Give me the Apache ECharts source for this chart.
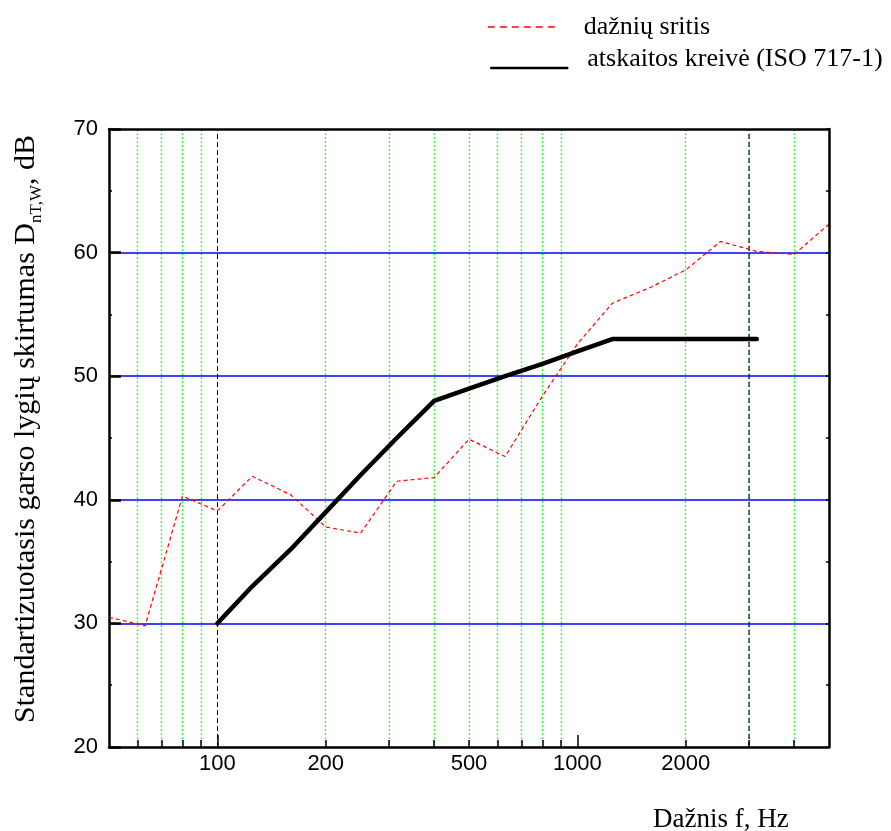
<!DOCTYPE html>
<html>
<head>
<meta charset="utf-8">
<script src="https://cdn.jsdelivr.net/npm/echarts@6/dist/echarts.min.js"></script>
<style>html,body{margin:0;padding:0;background:#fff;}#c{width:891px;height:831px;}</style>
</head>
<body>
<div id="c"></div>
<script>
// Third-octave band centre frequencies, Hz
var freqs = [50, 63, 80, 100, 125, 160, 200, 250, 315, 400, 500, 630, 800, 1000, 1250, 1600, 2000, 2500, 3150, 4000, 5000];
// Measured DnT values, dB ("dažnių sritis")
var measured = [30.5, 29.8, 40.3, 39.1, 41.9, 40.4, 37.8, 37.3, 41.5, 41.8, 44.9, 43.5, 48.4, 52.6, 55.9, 57.2, 58.6, 60.9, 60.1, 59.85, 62.3];
// ISO 717-1 reference curve (shifted)
var refFreqs = [100, 125, 160, 200, 250, 315, 400, 500, 630, 800, 1000, 1250, 1600, 2000, 2500, 3150];
var refValues = [30, 33, 36, 39, 42, 45, 48, 49, 50, 51, 52, 53, 53, 53, 53, 53];
// Axis tick / label values
var xLabelValues = [100, 200, 500, 1000, 2000];
var xMinorTicks = [60, 70, 80, 90, 200, 300, 400, 500, 600, 700, 800, 900, 2000, 3000, 4000];
var xMajorTicks = [100, 1000];
var greenLines = [60, 70, 80, 90, 200, 300, 400, 500, 600, 700, 800, 900, 2000, 3000, 4000];
var blackDashLines = [100, 3000];

var seriesNames = ['dažnių sritis', 'atskaitos kreivė (ISO 717-1)'];

function zip(a, b) { return a.map(function (v, i) { return [v, b[i]]; }); }

var markData = greenLines.map(function (v) {
  return { xAxis: v, lineStyle: { color: '#00ff00', type: [1.5, 2.5], width: 1.4 } };
}).concat(blackDashLines.map(function (v, i) {
  return { xAxis: v, lineStyle: { color: i === 0 ? '#000' : '#333', type: [5, 3], width: i === 0 ? 1 : 1.5 } };
}));

var serif = 'Liberation Serif';
var sans = 'Liberation Sans';

var chart = echarts.init(document.getElementById('c'), null, { renderer: 'canvas' });
chart.setOption({
  animation: false,
  backgroundColor: '#fff',
  grid: { left: 109, right: 62, top: 129, bottom: 84, containLabel: false },
  legend: [
    {
      data: [seriesNames[0]], left: 487, top: 14, padding: 0,
      itemWidth: 69, itemHeight: 14, selectedMode: false,
      lineStyle: { width: 1.5, type: [7, 5], color: '#ff0000' },
      itemStyle: { opacity: 0 },
      textStyle: { fontFamily: serif, fontSize: 26, color: '#000', padding: [0, 0, 0, 22] }
    },
    {
      data: [seriesNames[1]], left: 490, top: 46, padding: 0,
      itemWidth: 76, itemHeight: 14, selectedMode: false,
      lineStyle: { width: 2.5, type: 'solid', color: '#000' },
      itemStyle: { opacity: 0 },
      formatter: function (name) { return '{t|' + name + '}\n{sp| }'; },
      textStyle: {
        fontFamily: serif, fontSize: 26, color: '#000',
        rich: {
          t: { fontFamily: serif, fontSize: 26, color: '#000', lineHeight: 30, padding: [0, 0, 0, 15] },
          sp: { fontSize: 2, lineHeight: 18 }
        }
      }
    }
  ],
  xAxis: [
    {
      type: 'log', logBase: 10, min: 50, max: 5000, position: 'bottom', z: 6,
      axisLine: { show: true, lineStyle: { color: '#000', width: 2.5 } },
      axisTick: { show: true, inside: true, length: 7, customValues: xMinorTicks, lineStyle: { color: '#000', width: 1.5 } },
      axisLabel: {
        show: true, customValues: xLabelValues, fontFamily: sans, fontSize: 22, color: '#000', margin: 6,
        formatter: function (v) { return String(Math.round(v)); }
      },
      splitLine: { show: false }, minorTick: { show: false }
    },
    {
      type: 'log', logBase: 10, min: 50, max: 5000, position: 'bottom', z: 6,
      axisLine: { show: false },
      axisTick: { show: true, inside: true, length: 12, customValues: xMajorTicks, lineStyle: { color: '#000', width: 1.5 } },
      axisLabel: { show: false }, splitLine: { show: false }
    },
    {
      type: 'log', logBase: 10, min: 50, max: 5000, position: 'top', z: 6,
      axisLine: { show: true, lineStyle: { color: '#000', width: 2.5 } },
      axisTick: { show: true, inside: true, length: 2, customValues: xMinorTicks, lineStyle: { color: '#000', width: 1 } },
      axisLabel: { show: false }, splitLine: { show: false }
    }
  ],
  yAxis: [
    {
      type: 'value', min: 20, max: 70, interval: 10, position: 'left', z: 2,
      axisLine: { show: true, lineStyle: { color: '#000', width: 2.5 } },
      axisTick: { show: true, inside: true, length: 12, lineStyle: { color: '#000', width: 2.5 } },
      minorTick: { show: true, splitNumber: 2, length: 3, lineStyle: { color: '#000', width: 1.5 } },
      axisLabel: { fontFamily: sans, fontSize: 22, color: '#000', margin: 11 },
      splitLine: { show: true, showMinLine: false, showMaxLine: false, lineStyle: { color: '#0000ff', width: 1.5 } }
    },
    {
      type: 'value', min: 20, max: 70, interval: 5, position: 'right', z: 6,
      axisLine: { show: true, lineStyle: { color: '#000', width: 2.5 } },
      axisTick: { show: true, inside: true, length: 3, lineStyle: { color: '#000', width: 1.5 } },
      axisLabel: { show: false }, splitLine: { show: false }
    }
  ],
  series: [
    {
      name: 'grid-helper', type: 'line', data: [], xAxisIndex: 0, yAxisIndex: 0, z: 1,
      markLine: { z: 1, silent: true, symbol: ['none', 'none'], label: { show: false }, animation: false, data: markData }
    },
    {
      name: seriesNames[0], type: 'line', xAxisIndex: 0, yAxisIndex: 0, z: 3,
      data: zip(freqs, measured), symbol: 'none', showSymbol: false,
      lineStyle: { color: '#ff0000', width: 1.2, type: [4, 3] },
      itemStyle: { color: '#ff0000' }
    },
    {
      name: seriesNames[1], type: 'line', xAxisIndex: 0, yAxisIndex: 0, z: 4,
      data: zip(refFreqs, refValues), symbol: 'none', showSymbol: false,
      lineStyle: { color: '#000', width: 4.5, cap: 'round', join: 'round' },
      itemStyle: { color: '#000' }
    }
  ],
  graphic: [
    {
      type: 'text', x: 26, y: 429, rotation: Math.PI / 2,
      style: {
        text: '{a|Standartizuotasis garso lygių skirtumas D}{s|nT,W}{a|, dB}',
        align: 'center', verticalAlign: 'middle',
        rich: {
          a: { fontFamily: serif, fontSize: 30, fill: '#000', lineHeight: 38, verticalAlign: 'middle' },
          s: { fontFamily: serif, fontSize: 17, fill: '#000', lineHeight: 38, verticalAlign: 'bottom' }
        }
      }
    },
    {
      type: 'text', x: 653, y: 820,
      style: { text: 'Dažnis f, Hz', fontFamily: serif, fontSize: 27, fill: '#000', align: 'left', verticalAlign: 'middle' }
    }
  ]
});
</script>
</body>
</html>
